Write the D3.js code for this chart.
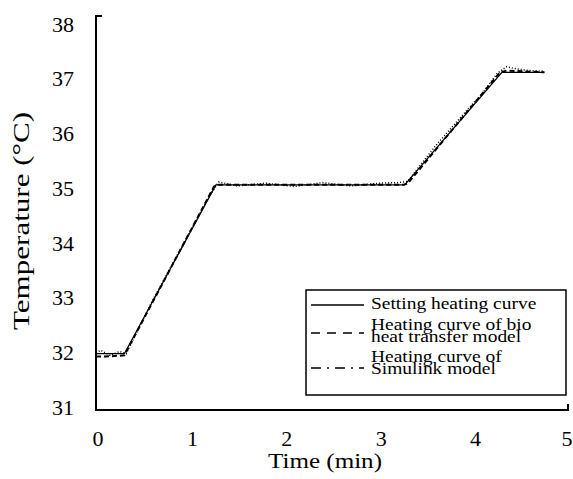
<!DOCTYPE html>
<html lang="en">
<head>
    <meta charset="UTF-8">
    <script src="https://d3js.org/d3.v7.min.js"></script>
    <title>Heating curves</title>
    <style>
        body { margin: 0; background: #fff; }
        svg text { font-family: "Liberation Serif", "Times New Roman", Times, serif; fill: #000; }
    </style>
</head>
<body>
<div id="chart"></div>
<script>
    // data
    var setTime = [0, 0.3, 1.27, 3.27, 4.3, 4.75],
        setTemp = [32, 32, 35, 35, 37, 37];
    var bioTime = [0, 0.1, 0.3, 1.25, 1.3, 2.0, 3.25, 3.3, 4.28, 4.35, 4.75],
        bioTemp = [31.95, 31.95, 31.97, 34.97, 35.0, 35.0, 35.0, 35.02, 37.0, 37.03, 37.0];
    var simTime = [0, 0.05, 0.15, 0.25, 0.32, 0.6, 1.0, 1.2, 1.3, 1.5, 1.8, 2.1, 2.4, 2.7, 3.0, 3.2, 3.3, 3.6, 3.9, 4.1, 4.25, 4.35, 4.45, 4.6, 4.75],
        simTemp = [32.02, 32.06, 31.97, 32.04, 32.0, 32.95, 34.18, 34.8, 35.05, 34.98, 35.03, 34.97, 35.04, 34.98, 35.03, 35.04, 35.06, 35.7, 36.27, 36.64, 36.98, 37.1, 37.06, 37.03, 37.02];
    var yTicks = [31, 32, 33, 34, 35, 36, 37, 38],
        xTicks = [0, 1, 2, 3, 4, 5];
    var legendNames = [["Setting heating curve"], ["Heating curve of bio", "heat transfer model"], ["Heating curve of", "Simulink model"]];

    var width = 573, height = 479;
    var svg = d3.select("#chart").append("svg")
        .attr("width", width).attr("height", height)
        .attr("font-family", "'Liberation Serif', 'Times New Roman', serif");

    var x = d3.scaleLinear().domain([0, 5]).range([96, 568]);
    var y = d3.scaleLinear().domain([31, 38]).range([410, 16]);
    // the tick labels in the original sit a little off the tick positions
    var yLab = d3.scaleLinear().domain([31, 38]).range([407, 24]);

    // axis frame with the small end ticks
    svg.append("path")
        .attr("fill", "none").attr("stroke", "#000").attr("stroke-width", 2)
        .attr("d", "M" + (x(0) + 6) + "," + y(38) + "H" + x(0) + "V" + y(31) + "H" + x(5) + "V" + (y(31) - 6));

    svg.selectAll(".ylab").data(yTicks).enter().append("text")
        .attr("x", 74).attr("y", function(d) { return yLab(d); })
        .attr("dy", "0.35em").attr("text-anchor", "end")
        .style("font-size", "22px")
        .text(function(d) { return d; });

    svg.selectAll(".xlab").data(xTicks).enter().append("text")
        .attr("x", function(d) { return Math.min(x(d) + 2, 567); }).attr("y", 446)
        .attr("text-anchor", "middle")
        .style("font-size", "22px")
        .text(function(d) { return d; });

    svg.append("text")
        .attr("x", 325).attr("y", 468).attr("text-anchor", "middle")
        .attr("textLength", 114).attr("lengthAdjust", "spacingAndGlyphs")
        .style("font-size", "21px").text("Time (min)");
    svg.append("text")
        .attr("transform", "translate(29,221) rotate(-90)")
        .attr("text-anchor", "middle")
        .attr("textLength", 218).attr("lengthAdjust", "spacingAndGlyphs")
        .style("font-size", "23px").text("Temperature (°C)");

    // curves
    var line = d3.line().x(function(d) { return x(d[0]); }).y(function(d) { return y(d[1]); });
    function pairs(t, v) { return t.map(function(d, i) { return [d, v[i]]; }); }

    svg.append("path").datum(pairs(simTime, simTemp))
        .attr("fill", "none").attr("stroke", "#000").attr("stroke-width", 1.5)
        .attr("stroke-dasharray", "1,2").attr("d", line);
    svg.append("path").datum(pairs(setTime, setTemp))
        .attr("fill", "none").attr("stroke", "#000").attr("stroke-width", 1.3)
        .attr("d", line);
    svg.append("path").datum(pairs(bioTime, bioTemp))
        .attr("fill", "none").attr("stroke", "#000").attr("stroke-width", 2)
        .attr("stroke-dasharray", "5,3").attr("d", line);

    // legend
    var styles = [null, "9,7", "10,6,2,6"];
    var lg = svg.append("g");
    lg.append("rect").attr("x", 306).attr("y", 290).attr("width", 260).attr("height", 105)
        .attr("fill", "#fff").attr("stroke", "#000").attr("stroke-width", 1.5);
    var lineY = [305, 333, 368],
        textY = [[309], [330, 342], [362, 374]];
    legendNames.forEach(function(names, i) {
        lg.append("line").attr("x1", 311).attr("x2", 364).attr("y1", lineY[i]).attr("y2", lineY[i])
            .attr("stroke", "#000").attr("stroke-width", 1.5)
            .attr("stroke-dasharray", styles[i]);
        names.forEach(function(n, j) {
            lg.append("text")
                .attr("transform", "translate(371," + textY[i][j] + ") scale(1.18,1)")
                .style("font-size", "16.5px").text(n);
        });
    });
</script>
</body>
</html>
